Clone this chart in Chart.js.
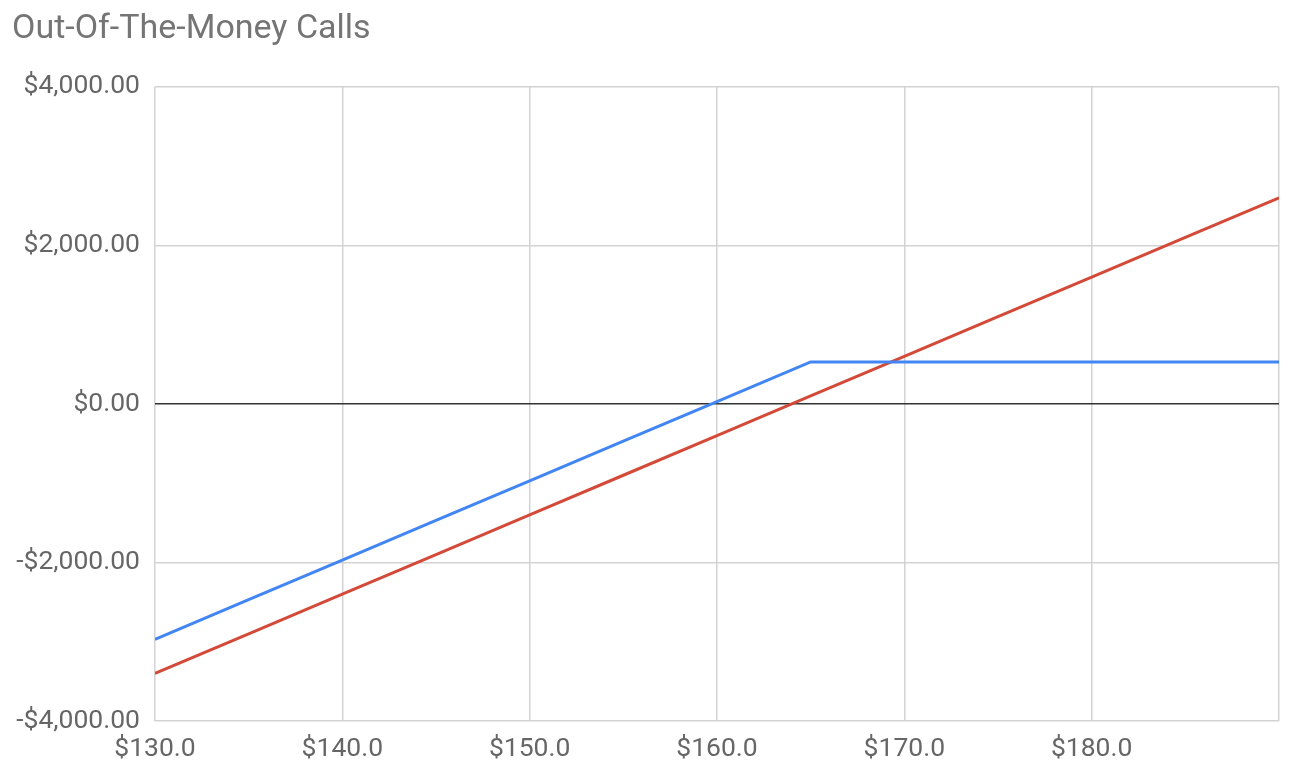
<!doctype html>
<html lang="en">
    <head>
        <meta charset="UTF-8" />
        <title>Out-Of-The-Money Calls</title>
        <script src="https://cdn.jsdelivr.net/npm/chart.js"></script>
        <style>
            html, body {
                margin: 0;
                padding: 0;
                background: #fff;
            }
            #chart-container {
                width: 1300px;
                height: 782px;
            }
        </style>
    </head>
    <body>
        <div id="chart-container">
            <canvas id="payoffChart"></canvas>
        </div>

        <script>
            // stock price at expiry
            const prices = [130, 135, 140, 145, 150, 155, 160, 165, 170, 175, 180, 185, 190];
            // covered call (stock + short 165 call)
            const coveredCall = [-2970, -2470, -1970, -1470, -970, -470, 30, 530, 530, 530, 530, 530, 530];
            // stock only
            const stockOnly = [-3400, -2900, -2400, -1900, -1400, -900, -400, 100, 600, 1100, 1600, 2100, 2600];
            const yTicks = [-4000, -2000, 0, 2000, 4000];

            const money = (v, d) =>
                (v < 0 ? "-$" : "$") +
                Math.abs(v).toLocaleString("en-US", { minimumFractionDigits: d, maximumFractionDigits: d });

            const toPoints = (vals) => prices.map((p, i) => ({ x: p, y: vals[i] }));

            const ctx = document.getElementById("payoffChart").getContext("2d");
            new Chart(ctx, {
                type: "line",
                data: {
                    datasets: [
                        {
                            label: "Covered Call",
                            data: toPoints(coveredCall),
                            borderColor: "#4285F4",
                            borderWidth: 3,
                            pointRadius: 0,
                            tension: 0,
                        },
                        {
                            label: "Stock",
                            data: toPoints(stockOnly),
                            borderColor: "#D44A38",
                            borderWidth: 3,
                            pointRadius: 0,
                            tension: 0,
                        },
                    ],
                },
                options: {
                    responsive: true,
                    maintainAspectRatio: false,
                    animation: false,
                    layout: { padding: { left: 12, right: 21, top: 0, bottom: 0 } },
                    plugins: {
                        legend: { display: false },
                        tooltip: { enabled: false },
                        title: {
                            display: true,
                            text: "Out-Of-The-Money Calls",
                            align: "start",
                            color: "#757575",
                            font: { family: "Roboto", size: 34, weight: "normal" },
                            padding: { top: 9, bottom: 37 },
                        },
                    },
                    scales: {
                        x: {
                            type: "linear",
                            min: 130,
                            max: 190,
                            afterFit: (s) => { s.height = 61; },
                            afterBuildTicks: (s) => {
                                s.ticks = prices.filter((p) => p % 10 === 0).map((v) => ({ value: v }));
                            },
                            ticks: {
                                color: "#666",
                                font: { family: "Roboto", size: 26.5 },
                                padding: 12,
                                maxRotation: 0,
                                callback: (v) => (v >= 190 ? "" : money(v, 1)),
                            },
                            grid: { color: "#d3d3d3", lineWidth: 1.5, drawTicks: false },
                            border: { display: false },
                        },
                        y: {
                            min: -4000,
                            max: 4000,
                            afterFit: (s) => { s.width = 143; },
                            afterBuildTicks: (s) => {
                                s.ticks = yTicks.map((v) => ({ value: v }));
                            },
                            ticks: {
                                color: "#666",
                                font: { family: "Roboto", size: 26.5 },
                                padding: 15,
                                callback: (v) => money(v, 2),
                            },
                            grid: {
                                color: (c) => (c.tick && c.tick.value === 0 ? "#333" : "#d3d3d3"),
                                lineWidth: 1.5,
                                drawTicks: false,
                            },
                            border: { display: false },
                        },
                    },
                },
            });
        </script>
    </body>
</html>
